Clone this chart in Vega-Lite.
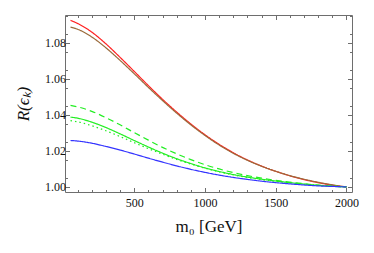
{
  "$schema": "https://vega.github.io/schema/vega-lite/v6.json",
  "autosize": {"type": "none"},
  "width": 287,
  "height": 177,
  "padding": {"left": 65, "top": 15, "right": 22, "bottom": 61},
  "background": "white",
  "config": {
    "view": {"stroke": "#6e6e6e", "strokeWidth": 1},
    "axis": {"labelFont": "Liberation Serif", "titleFont": "Liberation Serif", "labelColor": "#111", "titleColor": "#111", "domain": false, "grid": false, "tickColor": "#6e6e6e", "labelFontSize": 12, "titleFontSize": 15, "titleFontWeight": "normal"}
  },
  "data": {"values": [
    {"s":"red","x":50,"y":1.0925},{"s":"red","x":100,"y":1.0908},{"s":"red","x":200,"y":1.0860},{"s":"red","x":300,"y":1.0795},{"s":"red","x":400,"y":1.0720},{"s":"red","x":500,"y":1.0642},{"s":"red","x":600,"y":1.0563},{"s":"red","x":700,"y":1.0487},{"s":"red","x":800,"y":1.0416},{"s":"red","x":900,"y":1.0350},{"s":"red","x":1000,"y":1.0290},{"s":"red","x":1100,"y":1.0237},{"s":"red","x":1200,"y":1.0190},{"s":"red","x":1300,"y":1.0150},{"s":"red","x":1400,"y":1.0116},{"s":"red","x":1500,"y":1.0087},{"s":"red","x":1600,"y":1.0062},{"s":"red","x":1700,"y":1.0041},{"s":"red","x":1800,"y":1.0024},{"s":"red","x":1900,"y":1.0010},{"s":"red","x":2000,"y":1.0000},
    {"s":"brown","x":50,"y":1.0888},{"s":"brown","x":100,"y":1.0876},{"s":"brown","x":200,"y":1.0833},{"s":"brown","x":300,"y":1.0773},{"s":"brown","x":400,"y":1.0703},{"s":"brown","x":500,"y":1.0629},{"s":"brown","x":600,"y":1.0553},{"s":"brown","x":700,"y":1.0480},{"s":"brown","x":800,"y":1.0410},{"s":"brown","x":900,"y":1.0345},{"s":"brown","x":1000,"y":1.0286},{"s":"brown","x":1100,"y":1.0233},{"s":"brown","x":1200,"y":1.0187},{"s":"brown","x":1300,"y":1.0148},{"s":"brown","x":1400,"y":1.0115},{"s":"brown","x":1500,"y":1.0087},{"s":"brown","x":1600,"y":1.0063},{"s":"brown","x":1700,"y":1.0043},{"s":"brown","x":1800,"y":1.0026},{"s":"brown","x":1900,"y":1.0012},{"s":"brown","x":2000,"y":1.0000},
    {"s":"gdash","x":50,"y":1.0453},{"s":"gdash","x":100,"y":1.0445},{"s":"gdash","x":200,"y":1.0420},{"s":"gdash","x":300,"y":1.0385},{"s":"gdash","x":400,"y":1.0345},{"s":"gdash","x":500,"y":1.0302},{"s":"gdash","x":600,"y":1.0260},{"s":"gdash","x":700,"y":1.0220},{"s":"gdash","x":800,"y":1.0184},{"s":"gdash","x":900,"y":1.0152},{"s":"gdash","x":1000,"y":1.0124},{"s":"gdash","x":1100,"y":1.0100},{"s":"gdash","x":1200,"y":1.0080},{"s":"gdash","x":1300,"y":1.0063},{"s":"gdash","x":1400,"y":1.0049},{"s":"gdash","x":1500,"y":1.0037},{"s":"gdash","x":1600,"y":1.0027},{"s":"gdash","x":1700,"y":1.0018},{"s":"gdash","x":1800,"y":1.0010},{"s":"gdash","x":1900,"y":1.0004},{"s":"gdash","x":2000,"y":1.0000},
    {"s":"gsolid","x":50,"y":1.0388},{"s":"gsolid","x":100,"y":1.0382},{"s":"gsolid","x":200,"y":1.0360},{"s":"gsolid","x":300,"y":1.0330},{"s":"gsolid","x":400,"y":1.0295},{"s":"gsolid","x":500,"y":1.0258},{"s":"gsolid","x":600,"y":1.0222},{"s":"gsolid","x":700,"y":1.0188},{"s":"gsolid","x":800,"y":1.0157},{"s":"gsolid","x":900,"y":1.0130},{"s":"gsolid","x":1000,"y":1.0106},{"s":"gsolid","x":1100,"y":1.0086},{"s":"gsolid","x":1200,"y":1.0069},{"s":"gsolid","x":1300,"y":1.0055},{"s":"gsolid","x":1400,"y":1.0043},{"s":"gsolid","x":1500,"y":1.0033},{"s":"gsolid","x":1600,"y":1.0024},{"s":"gsolid","x":1700,"y":1.0016},{"s":"gsolid","x":1800,"y":1.0009},{"s":"gsolid","x":1900,"y":1.0004},{"s":"gsolid","x":2000,"y":1.0000},
    {"s":"gdot","x":50,"y":1.0368},{"s":"gdot","x":100,"y":1.0362},{"s":"gdot","x":200,"y":1.0340},{"s":"gdot","x":300,"y":1.0312},{"s":"gdot","x":400,"y":1.0280},{"s":"gdot","x":500,"y":1.0246},{"s":"gdot","x":600,"y":1.0213},{"s":"gdot","x":700,"y":1.0182},{"s":"gdot","x":800,"y":1.0153},{"s":"gdot","x":900,"y":1.0127},{"s":"gdot","x":1000,"y":1.0104},{"s":"gdot","x":1100,"y":1.0084},{"s":"gdot","x":1200,"y":1.0067},{"s":"gdot","x":1300,"y":1.0053},{"s":"gdot","x":1400,"y":1.0041},{"s":"gdot","x":1500,"y":1.0031},{"s":"gdot","x":1600,"y":1.0023},{"s":"gdot","x":1700,"y":1.0015},{"s":"gdot","x":1800,"y":1.0009},{"s":"gdot","x":1900,"y":1.0004},{"s":"gdot","x":2000,"y":1.0000},
    {"s":"blue","x":50,"y":1.0258},{"s":"blue","x":100,"y":1.0255},{"s":"blue","x":200,"y":1.0243},{"s":"blue","x":300,"y":1.0225},{"s":"blue","x":400,"y":1.0205},{"s":"blue","x":500,"y":1.0183},{"s":"blue","x":600,"y":1.0160},{"s":"blue","x":700,"y":1.0138},{"s":"blue","x":800,"y":1.0117},{"s":"blue","x":900,"y":1.0098},{"s":"blue","x":1000,"y":1.0081},{"s":"blue","x":1100,"y":1.0066},{"s":"blue","x":1200,"y":1.0053},{"s":"blue","x":1300,"y":1.0042},{"s":"blue","x":1400,"y":1.0032},{"s":"blue","x":1500,"y":1.0024},{"s":"blue","x":1600,"y":1.0017},{"s":"blue","x":1700,"y":1.0011},{"s":"blue","x":1800,"y":1.0006},{"s":"blue","x":1900,"y":1.0003},{"s":"blue","x":2000,"y":1.0000}
  ]},
  "resolve": {"axis": {"x": "independent", "y": "independent"}},
  "layer": [
    {
      "mark": {"type": "line", "opacity": 0},
      "encoding": {
        "x": {"field": "x", "type": "quantitative", "scale": {"domain": [11, 2039], "nice": false, "zero": false},
              "axis": {"orient": "bottom", "values": [100,200,300,400,600,700,800,900,1100,1200,1300,1400,1600,1700,1800,1900], "labels": false, "tickSize": -2.5, "title": null}},
        "y": {"field": "y", "type": "quantitative", "scale": {"domain": [0.9972, 1.0955], "nice": false, "zero": false},
              "axis": {"orient": "left", "values": [1.005,1.015,1.025,1.035,1.045,1.055,1.065,1.075,1.085,1.095], "labels": false, "tickSize": -2.5, "title": null}},
        "detail": {"field": "s"}
      }
    },
    {
      "mark": {"type": "line", "opacity": 0},
      "encoding": {
        "x": {"field": "x", "type": "quantitative", "axis": {"orient": "top", "values": [500,1000,1500,2000], "labels": false, "tickSize": -4.5, "title": null}},
        "y": {"field": "y", "type": "quantitative", "axis": {"orient": "right", "values": [1.0,1.02,1.04,1.06,1.08], "labels": false, "tickSize": -4.5, "title": null}},
        "detail": {"field": "s"}
      }
    },
    {
      "mark": {"type": "line", "opacity": 0},
      "encoding": {
        "x": {"field": "x", "type": "quantitative", "axis": {"orient": "top", "values": [100,200,300,400,600,700,800,900,1100,1200,1300,1400,1600,1700,1800,1900], "labels": false, "tickSize": -2.5, "title": null}},
        "y": {"field": "y", "type": "quantitative", "axis": {"orient": "right", "values": [1.005,1.015,1.025,1.035,1.045,1.055,1.065,1.075,1.085,1.095], "labels": false, "tickSize": -2.5, "title": null}},
        "detail": {"field": "s"}
      }
    },
    {
      "mark": {"type": "line", "strokeWidth": 1.2, "interpolate": "monotone"},
      "encoding": {
        "x": {"field": "x", "type": "quantitative",
              "axis": {"orient": "bottom", "values": [500,1000,1500,2000], "format": "d", "tickSize": -4.5, "labelPadding": 10, "title": "m₀ [GeV]", "titlePadding": 10, "titleFontSize": 17}},
        "y": {"field": "y", "type": "quantitative",
              "axis": {"orient": "left", "values": [1.0,1.02,1.04,1.06,1.08], "format": ".2f", "tickSize": -4.5, "labelPadding": 4, "title": "R(ϵₖ)", "titleFontStyle": "italic", "titleFontSize": 17, "titlePadding": 12}},
        "color": {"field": "s", "type": "nominal", "legend": null,
                  "scale": {"domain": ["red","brown","gdash","gsolid","gdot","blue"], "range": ["#ff2020","#9a6a3a","#22ee22","#22ee22","#22ee22","#3333ff"]}},
        "strokeDash": {"field": "s", "type": "nominal", "legend": null,
                  "scale": {"domain": ["red","brown","gdash","gsolid","gdot","blue"], "range": [[1,0],[1,0],[6,4],[1,0],[1.5,3],[1,0]]}}
      }
    }
  ]
}
